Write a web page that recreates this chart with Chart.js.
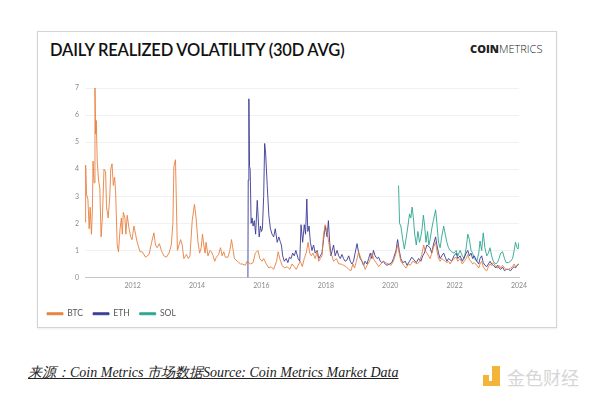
<!DOCTYPE html>
<html>
<head>
<meta charset="utf-8">
<script src="https://cdn.jsdelivr.net/npm/chart.js@4/dist/chart.umd.min.js"></script>
<style>
  body { margin: 0; background: #fff; width: 600px; height: 399px; position: relative; overflow: hidden; }
  .card { position: absolute; left: 37px; top: 31px; width: 518px; height: 295px; border: 1px solid #d4d4d8; box-shadow: 0 1px 2px rgba(0,0,0,0.08); }
  .title { position: absolute; left: 50px; top: 40px; font: 600 16.5px Lato, sans-serif; color: #111; letter-spacing: -0.2px; }
  .logo { position: absolute; left: 470px; top: 41px; font: 11px "Open Sans", sans-serif; color: #222; letter-spacing: 0px; }
  .logo b { font-weight: 800; }
  .logo span { font-weight: 300; }
  #wrap { position: absolute; left: 37px; top: 31px; width: 520px; height: 297px; }
  .source { position: absolute; left: 28px; top: 364px; font: italic 14px "Liberation Serif", serif; color: #222; text-decoration: underline; }
  .mark { position: absolute; left: 483px; top: 366px; }
  .mark .sq { position: absolute; background: #f3b43a; }
  .mark .txt { position: absolute; left: 24px; top: -2px; font: 18px "Noto Sans CJK SC", sans-serif; color: #d6d6d6; white-space: nowrap; }
</style>
</head>
<body>
<div class="card"></div>
<div class="title">DAILY REALIZED VOLATILITY (30D AVG)</div>
<div class="logo"><b>COIN</b><span>METRICS</span></div>
<div id="wrap"><canvas id="chart"></canvas></div>
<div class="source">来源：Coin Metrics 市场数据Source: Coin Metrics Market Data</div>
<div class="mark">
  <div class="sq" style="left:0;top:9px;width:6px;height:6px;"></div>
  <div class="sq" style="left:9px;top:0;width:8px;height:15px;"></div>
  <div class="sq" style="left:0;top:15px;width:17px;height:5px;"></div>
  <div class="txt">金色财经</div>
</div>
<script>
const seriesNames = ['BTC', 'ETH', 'SOL'];
const yearTicks = [2012, 2014, 2016, 2018, 2020, 2022, 2024];

const btcYears = [
  2010.52, 2010.54, 2010.57, 2010.61, 2010.65, 2010.68, 2010.72, 2010.75, 2010.77, 2010.80,
  2010.83, 2010.85, 2010.87, 2010.90, 2010.94, 2010.98, 2011.02, 2011.06, 2011.11, 2011.16,
  2011.19, 2011.24, 2011.29, 2011.32, 2011.36, 2011.40, 2011.44, 2011.47, 2011.52, 2011.56,
  2011.61, 2011.65, 2011.68, 2011.71, 2011.76, 2011.79, 2011.83, 2011.89, 2011.94, 2011.98,
  2012.04, 2012.09, 2012.14, 2012.23, 2012.30, 2012.40, 2012.51, 2012.59, 2012.66, 2012.71,
  2012.76, 2012.83, 2012.89, 2012.97, 2013.05, 2013.13, 2013.20, 2013.25, 2013.28, 2013.33,
  2013.39, 2013.44, 2013.49, 2013.54, 2013.59, 2013.67, 2013.73, 2013.78, 2013.85, 2013.92,
  2013.97, 2014.03, 2014.08, 2014.13, 2014.17, 2014.21, 2014.25, 2014.28, 2014.34, 2014.40,
  2014.45, 2014.50, 2014.55, 2014.60, 2014.67, 2014.73, 2014.78, 2014.83, 2014.88, 2014.96,
  2015.02, 2015.07, 2015.11, 2015.16, 2015.25, 2015.35, 2015.40, 2015.50, 2015.55, 2015.66,
  2015.74, 2015.81, 2015.89, 2015.95, 2016.02, 2016.07, 2016.15, 2016.23, 2016.30, 2016.38,
  2016.47, 2016.52, 2016.57, 2016.64, 2016.72, 2016.80, 2016.88, 2016.95, 2017.02, 2017.08,
  2017.16, 2017.21, 2017.27, 2017.33, 2017.39, 2017.45, 2017.50, 2017.55, 2017.60, 2017.67,
  2017.73, 2017.78, 2017.83, 2017.88, 2017.93, 2017.98, 2018.04, 2018.09, 2018.14, 2018.19,
  2018.24, 2018.33, 2018.40, 2018.47, 2018.55, 2018.63, 2018.71, 2018.78, 2018.84, 2018.89,
  2018.95, 2019.02, 2019.09, 2019.17, 2019.22, 2019.28, 2019.36, 2019.43, 2019.50, 2019.59,
  2019.64, 2019.71, 2019.79, 2019.86, 2019.95, 2020.02, 2020.10, 2020.18, 2020.23, 2020.28,
  2020.33, 2020.42, 2020.49, 2020.57, 2020.62, 2020.70, 2020.77, 2020.85, 2020.91, 2020.98,
  2021.04, 2021.08, 2021.14, 2021.24, 2021.29, 2021.34, 2021.41, 2021.45, 2021.50, 2021.55,
  2021.60, 2021.66, 2021.71, 2021.76, 2021.81, 2021.86, 2021.91, 2021.98, 2022.05, 2022.10,
  2022.17, 2022.24, 2022.30, 2022.36, 2022.41, 2022.46, 2022.51, 2022.56, 2022.61, 2022.69,
  2022.75, 2022.79, 2022.84, 2022.89, 2022.94, 2023.00, 2023.05, 2023.10, 2023.15, 2023.20,
  2023.28, 2023.33, 2023.38, 2023.43, 2023.49, 2023.55, 2023.60, 2023.67, 2023.74, 2023.80,
  2023.85, 2023.89, 2023.94, 2024.00
];
const btcValues = [
  2.05, 4.15, 3.05, 2.9, 1.8, 2.6, 1.6, 2.5, 4.3, 3.5,
  7.0, 5.3, 5.8, 4.3, 3.6, 3.3, 1.5, 2.2, 4.0, 3.9,
  2.6, 2.2, 3.0, 4.0, 4.2, 3.4, 3.7, 3.2, 1.2, 0.95,
  1.8, 2.2, 1.6, 2.4, 2.2, 1.6, 2.3, 1.8, 1.5, 1.4,
  1.9, 1.6, 1.3, 0.95, 0.95, 0.75, 0.85, 1.3, 1.65, 1.2,
  1.1, 1.25, 1.0, 0.8, 0.75, 0.9, 1.2, 2.0, 4.1, 4.35,
  1.0, 1.2, 1.4, 1.2, 0.7, 0.85, 0.7, 0.8, 2.1, 2.7,
  2.2, 1.3, 0.9, 1.1, 1.6, 1.2, 0.9, 1.3, 0.8, 1.0,
  0.95, 0.8, 0.6, 0.75, 0.85, 1.1, 0.8, 0.95, 0.75, 0.75,
  1.0, 1.4, 1.1, 0.7, 0.6, 0.5, 0.5, 0.45, 0.6, 0.5,
  0.55, 0.9, 1.0, 0.7, 0.6, 0.7, 0.5, 0.35, 0.4, 0.3,
  0.6, 0.95, 0.7, 0.45, 0.35, 0.4, 0.3, 0.5, 0.4, 0.3,
  0.5, 0.6, 0.4, 0.7, 0.9, 1.3, 0.9, 0.8, 0.9, 0.7,
  0.95, 0.6, 0.7, 0.8, 1.6, 1.95, 1.7, 1.3, 0.9, 0.8,
  0.6, 0.7, 0.5, 0.5, 0.45, 0.4, 0.3, 0.25, 0.5, 0.35,
  0.6, 0.95, 0.7, 0.5, 0.3, 0.45, 0.6, 0.9, 0.65, 0.5,
  0.4, 0.5, 0.6, 0.55, 0.5, 0.45, 0.6, 0.9, 1.2, 0.9,
  0.6, 0.45, 0.35, 0.5, 0.45, 0.6, 0.55, 0.5, 0.6, 0.85,
  1.2, 1.0, 0.9, 0.7, 0.9, 1.1, 1.3, 1.0, 0.7, 0.6,
  0.7, 0.65, 0.6, 0.55, 0.6, 0.5, 0.6, 0.7, 0.75, 0.6,
  0.7, 0.5, 0.6, 0.7, 0.85, 0.65, 0.6, 0.5, 0.55, 0.45,
  0.35, 0.5, 0.6, 0.4, 0.3, 0.25, 0.4, 0.5, 0.45, 0.55,
  0.4, 0.35, 0.45, 0.35, 0.45, 0.35, 0.3, 0.3, 0.35, 0.4,
  0.5, 0.4, 0.45, 0.5
];

const ethYears = [
  2015.58, 2015.59, 2015.61, 2015.63, 2015.65, 2015.68, 2015.71, 2015.74, 2015.78, 2015.82,
  2015.87, 2015.90, 2015.93, 2015.97, 2016.00, 2016.03, 2016.07, 2016.10, 2016.13, 2016.18,
  2016.23, 2016.28, 2016.33, 2016.38, 2016.43, 2016.49, 2016.54, 2016.59, 2016.62, 2016.66,
  2016.71, 2016.77, 2016.82, 2016.87, 2016.92, 2016.97, 2017.02, 2017.07, 2017.14, 2017.19,
  2017.23, 2017.28, 2017.33, 2017.37, 2017.41, 2017.44, 2017.48, 2017.52, 2017.57, 2017.62,
  2017.67, 2017.73, 2017.78, 2017.83, 2017.88, 2017.93, 2017.98, 2018.04, 2018.08, 2018.12,
  2018.16, 2018.20, 2018.24, 2018.29, 2018.35, 2018.40, 2018.45, 2018.50, 2018.55, 2018.60,
  2018.66, 2018.71, 2018.76, 2018.81, 2018.86, 2018.91, 2018.97, 2019.02, 2019.07, 2019.12,
  2019.17, 2019.22, 2019.28, 2019.33, 2019.38, 2019.43, 2019.48, 2019.53, 2019.59, 2019.64,
  2019.69, 2019.74, 2019.79, 2019.84, 2019.90, 2019.98, 2020.05, 2020.10, 2020.18, 2020.23,
  2020.28, 2020.33, 2020.39, 2020.47, 2020.52, 2020.60, 2020.67, 2020.74, 2020.81, 2020.88,
  2020.95, 2021.01, 2021.06, 2021.14, 2021.24, 2021.29, 2021.34, 2021.41, 2021.45, 2021.50,
  2021.55, 2021.60, 2021.66, 2021.71, 2021.76, 2021.81, 2021.86, 2021.91, 2021.98, 2022.05,
  2022.10, 2022.17, 2022.24, 2022.30, 2022.36, 2022.41, 2022.46, 2022.51, 2022.56, 2022.61,
  2022.69, 2022.75, 2022.79, 2022.84, 2022.89, 2022.94, 2023.00, 2023.05, 2023.10, 2023.15,
  2023.20, 2023.28, 2023.33, 2023.38, 2023.43, 2023.49, 2023.55, 2023.60, 2023.67, 2023.74,
  2023.80, 2023.85, 2023.89, 2023.94, 2024.00
];
const ethValues = [
  0, 3.6, 6.6, 4.1, 4.0, 2.0, 2.2, 1.9, 2.1, 1.6,
  2.85, 2.2, 1.5, 1.9, 1.7, 1.8, 3.0, 4.95, 4.6, 3.4,
  2.3, 1.8, 1.6, 1.5, 1.8, 1.3, 1.5, 1.3, 1.2, 0.8,
  0.6, 0.7, 0.55, 0.75, 0.7, 0.9, 0.8, 1.0, 0.7, 0.6,
  1.95, 1.3, 1.95, 1.6, 2.9, 1.7, 1.9, 1.3, 1.0, 1.2,
  0.9, 1.0, 0.7, 0.8, 0.9, 1.4, 1.9, 1.5, 2.1, 1.3,
  0.8, 1.0, 1.2, 0.8, 1.0, 0.8, 0.7, 0.85, 0.7, 0.6,
  0.65, 0.8, 0.6, 0.5, 0.6, 0.9, 1.25, 0.9, 0.7, 0.6,
  0.45, 0.6, 0.5, 0.7, 0.9, 0.7, 1.0, 0.8, 0.7, 0.75,
  0.6, 0.55, 0.6, 0.5, 0.45, 0.5, 0.55, 0.7, 1.0, 1.4,
  1.0, 0.7, 0.55, 0.6, 0.45, 0.6, 0.75, 0.65, 0.55, 0.7,
  0.6, 0.8, 0.9, 1.2, 1.1, 0.9, 1.2, 1.5, 1.2, 0.9,
  0.7, 0.8, 0.9, 0.75, 0.6, 0.7, 0.65, 0.6, 0.8, 0.9,
  0.7, 0.8, 0.6, 0.75, 0.9, 1.0, 0.8, 0.9, 0.7, 0.8,
  0.6, 0.5, 0.7, 0.8, 0.55, 0.45, 0.4, 0.5, 0.6, 0.5,
  0.45, 0.35, 0.45, 0.35, 0.3, 0.38, 0.25, 0.3, 0.3, 0.25,
  0.35, 0.4, 0.35, 0.45, 0.5
];

const solYears = [
  2020.26, 2020.29, 2020.33, 2020.39, 2020.44, 2020.50, 2020.55, 2020.60, 2020.64, 2020.68,
  2020.72, 2020.76, 2020.81, 2020.86, 2020.91, 2020.95, 2020.99, 2021.03, 2021.07, 2021.11,
  2021.16, 2021.20, 2021.24, 2021.29, 2021.34, 2021.41, 2021.45, 2021.50, 2021.55, 2021.60,
  2021.66, 2021.71, 2021.76, 2021.81, 2021.86, 2021.91, 2021.98, 2022.05, 2022.10, 2022.17,
  2022.24, 2022.30, 2022.36, 2022.41, 2022.46, 2022.51, 2022.56, 2022.61, 2022.69, 2022.75,
  2022.79, 2022.84, 2022.89, 2022.94, 2023.00, 2023.05, 2023.10, 2023.15, 2023.20, 2023.28,
  2023.33, 2023.38, 2023.43, 2023.49, 2023.55, 2023.60, 2023.67, 2023.74, 2023.80, 2023.85,
  2023.89, 2023.94, 2023.97, 2024.00
];
const solValues = [
  3.4, 2.0, 1.9, 1.4, 1.05, 1.5, 1.9, 2.35, 2.2, 2.6,
  2.2, 1.6, 1.2, 1.7, 1.3, 1.5, 1.8, 2.3, 1.9, 1.3,
  1.7, 1.2, 1.4, 1.8, 2.1, 2.5, 2.0, 1.3, 1.1, 1.5,
  1.9, 1.6, 1.3, 1.1, 1.0, 0.95, 0.9, 1.0, 0.8, 1.0,
  0.8, 0.7, 1.1, 1.6, 1.4, 1.0, 0.9, 0.7, 0.6, 0.9,
  1.35, 1.0, 1.65, 1.1, 0.8, 0.9, 1.1, 0.8, 0.6, 0.5,
  0.55, 0.7, 0.9, 0.95, 0.7, 0.55, 0.55, 0.6, 0.7, 1.0,
  1.3, 1.1, 1.05, 1.3
];

const colors = ['#e8803f', '#3a3a96', '#2ba58f'];

function toPoints(xs, ys) {
  return xs.map((x, i) => ({ x: x, y: ys[i] }));
}

createChart();

function createChart() {
  const ctx = document.getElementById('chart').getContext('2d');
  const seriesData = [
    toPoints(btcYears, btcValues),
    toPoints(ethYears, ethValues),
    toPoints(solYears, solValues)
  ];

  new Chart(ctx, {
    type: 'line',
    data: {
      datasets: seriesNames.map((name, i) => ({
        label: name,
        data: seriesData[i],
        borderColor: colors[i],
        backgroundColor: colors[i],
        borderWidth: 0.9,
        pointRadius: 0,
        tension: 0
      }))
    },
    options: {
      responsive: true,
      maintainAspectRatio: false,
      animation: false,
      layout: { padding: { top: 57, right: 38, left: 0, bottom: 0 } },
      plugins: {
        tooltip: { enabled: false },
        legend: {
          position: 'bottom',
          align: 'start',
          labels: {
            boxWidth: 16,
            boxHeight: 2,
            padding: 10,
            color: '#555',
            font: { family: 'Lato', size: 8.5 }
          }
        }
      },
      scales: {
        x: {
          type: 'linear',
          min: 2010.52,
          max: 2024,
          afterBuildTicks: (scale) => { scale.ticks = yearTicks.map(v => ({ value: v })); },
          afterFit: (scale) => { scale.height = 22; },
          grid: { display: false, drawTicks: false },
          border: { color: '#c4c4cc', width: 1 },
          ticks: {
            color: '#8a8a8a',
            font: { family: 'Lato', size: 7 },
            padding: 4,
            maxRotation: 0,
            callback: (v) => String(v)
          }
        },
        y: {
          min: 0,
          max: 7,
          afterFit: (scale) => { scale.width = 48; },
          grid: { color: '#f1f1f3', drawTicks: false },
          border: { display: false },
          ticks: {
            stepSize: 1,
            color: '#8a8a8a',
            font: { family: 'Lato', size: 7 },
            padding: 6
          }
        }
      }
    }
  });
}
</script>
</body>
</html>
